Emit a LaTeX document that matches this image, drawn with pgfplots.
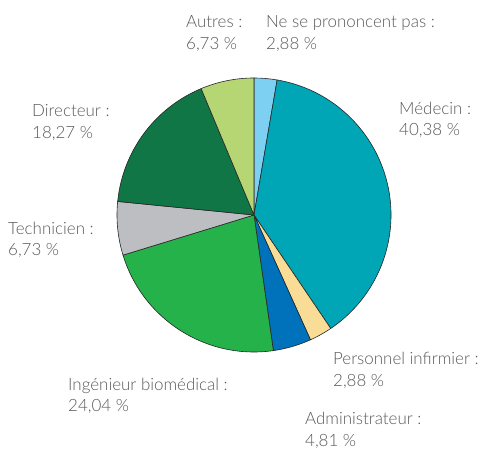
\documentclass[border=0pt]{standalone}
\usepackage{fontspec}
\setmainfont{Lato}[UprightFont={* Light}]
\usepackage{pgfplots}
\usepackage{pgfplotstable}
\pgfplotsset{compat=1.18}

\definecolor{cNsp}{HTML}{7DD0F2}
\definecolor{cMed}{HTML}{00A5B6}
\definecolor{cInf}{HTML}{F9DD97}
\definecolor{cAdm}{HTML}{0071BB}
\definecolor{cIng}{HTML}{25B24B}
\definecolor{cTec}{HTML}{BDBEC1}
\definecolor{cDir}{HTML}{107645}
\definecolor{cAut}{HTML}{B6D673}
\definecolor{txt}{HTML}{58595B}

% slices clockwise from the top
\pgfplotstableread{
value col
2.88  cNsp
40.38 cMed
2.88  cInf
4.81  cAdm
24.04 cIng
6.73  cTec
18.27 cDir
6.73  cAut
}\pie

\begin{document}
\begin{tikzpicture}[font=\fontsize{17}{20}\selectfont]
\begin{axis}[
  x=1bp, y=1bp, scale only axis,
  xmin=0, xmax=484, ymin=0, ymax=452,
  hide axis, clip=false,
]
\path (axis cs:0,0) rectangle (axis cs:484,452);
\pgfplotsextra{
  \pgfplotstablegetrowsof{\pie}
  \pgfmathtruncatemacro\nlast{\pgfplotsretval-1}
  \def\tot{0}
  \foreach \i in {0,...,\nlast}{
    \pgfplotstablegetelem{\i}{value}\of\pie
    \pgfmathsetmacro\t{\tot+\pgfplotsretval}
    \xdef\tot{\t}
  }
  \xdef\startang{90}
  \foreach \i in {0,...,\nlast}{
    \pgfplotstablegetelem{\i}{value}\of\pie
    \pgfmathsetmacro\stopang{\startang-\pgfplotsretval/\tot*360}
    \pgfplotstablegetelem{\i}{col}\of\pie
    \let\sc\pgfplotsretval
    \draw[fill=\sc, draw=black!85, line width=0.6bp, line join=round]
      (axis cs:254,237) -- ++(\startang:137bp)
      arc[start angle=\startang, end angle=\stopang, radius=137bp] -- cycle;
    \xdef\startang{\stopang}
  }
}
\begin{scope}[every node/.style={anchor=base west, inner sep=0pt, text=txt}]
\node at (axis cs:186,424) {Autres :};
\node at (axis cs:186,402) {6,73 \%};
\node at (axis cs:266,424) {Ne se prononcent pas :};
\node at (axis cs:266,402) {2,88 \%};
\node at (axis cs:399,337) {Médecin :};
\node at (axis cs:399,316) {40,38 \%};
\node at (axis cs:32,335) {Directeur :};
\node at (axis cs:32,313) {18,27 \%};
\node at (axis cs:8,217) {Technicien :};
\node at (axis cs:8,196) {6,73 \%};
\node at (axis cs:68,61) {Ingénieur biomédical :};
\node at (axis cs:68,40) {24,04 \%};
\node at (axis cs:333,87) {Personnel infirmier :};
\node at (axis cs:333,65) {2,88 \%};
\node at (axis cs:305,27) {Administrateur :};
\node at (axis cs:305,5) {4,81 \%};
\end{scope}
\end{axis}
\end{tikzpicture}
\end{document}
